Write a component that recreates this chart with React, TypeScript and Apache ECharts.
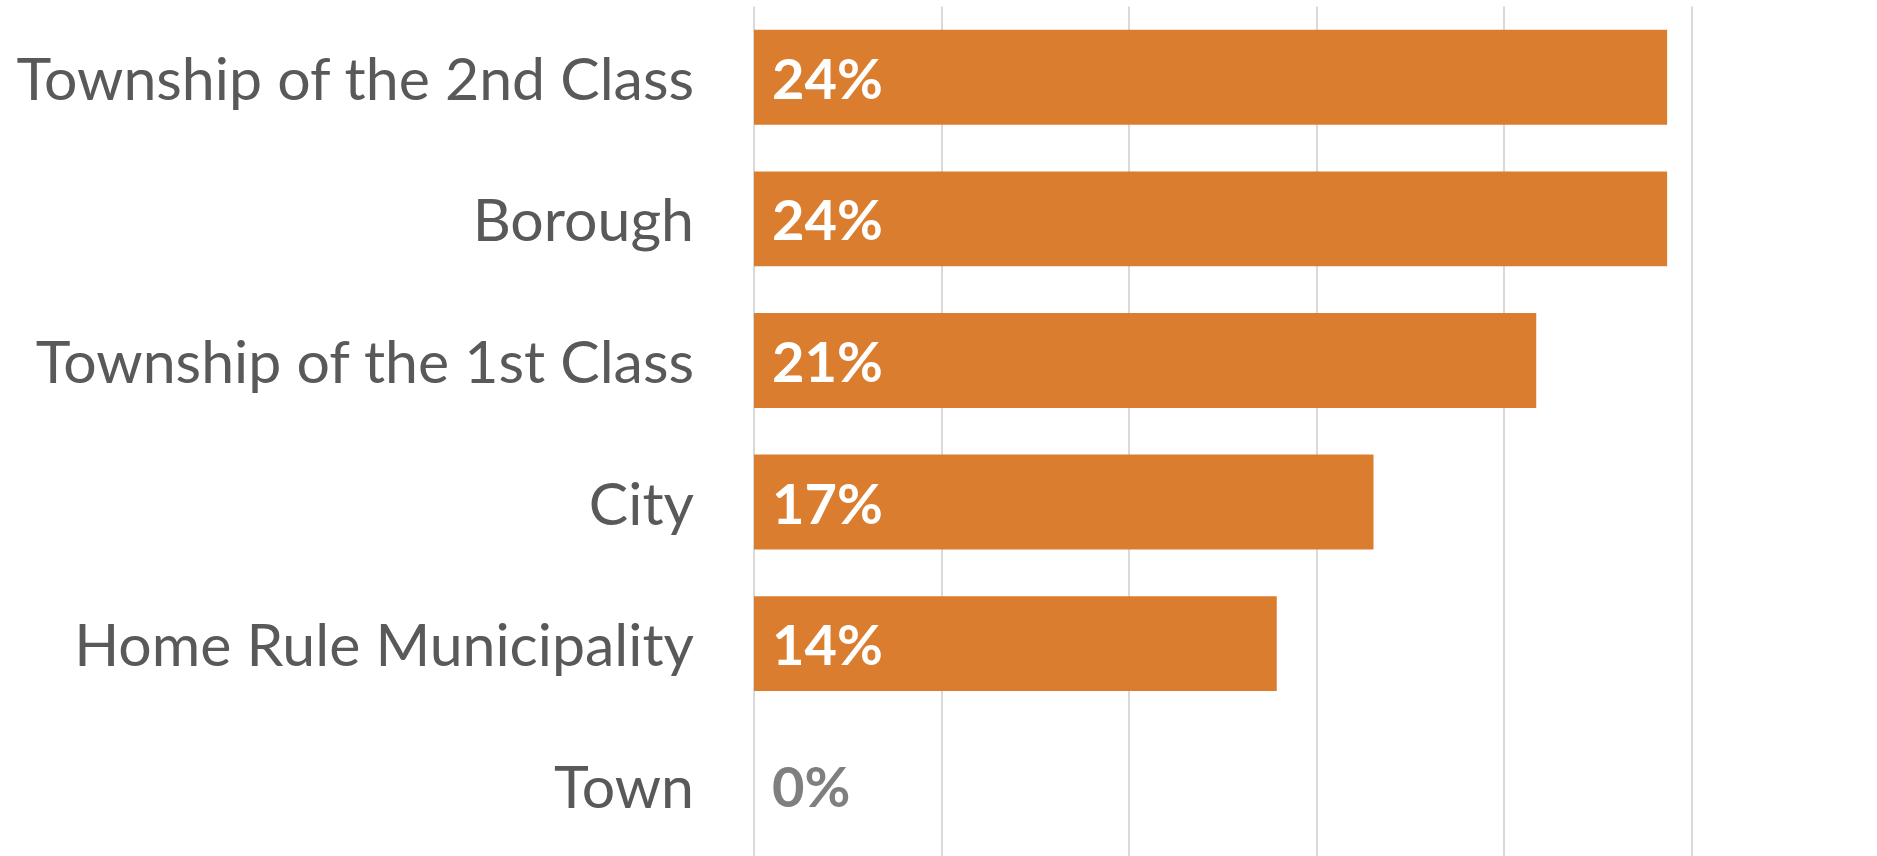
import React, { useEffect, useRef } from "react";
import * as echarts from "echarts";

const categories = [
  "Township of the 2nd Class",
  "Borough",
  "Township of the 1st Class",
  "City",
  "Home Rule Municipality",
  "Town",
];
const values = [24.35, 24.35, 20.86, 16.52, 13.94, 0];
const xTicks = [0, 5, 10, 15, 20, 25];

export default function App() {
  const ref = useRef<HTMLDivElement>(null);
  useEffect(() => {
    document.body.style.margin = "0";
    document.body.style.overflow = "hidden";
    const chart = echarts.init(ref.current!, null, { renderer: "svg" });
    const font = "Lato";
    chart.setOption({
      animation: false,
      backgroundColor: "#ffffff",
      grid: { left: 754, top: 6.5, width: 937.5, height: 854, containLabel: false },
      xAxis: {
        type: "value",
        min: xTicks[0],
        max: xTicks[xTicks.length - 1],
        interval: 5,
        axisLabel: { show: false },
        axisLine: { show: false },
        axisTick: { show: false },
        splitLine: { show: true, lineStyle: { color: "#D9D9D9", width: 2 } },
      },
      yAxis: {
        type: "category",
        data: categories,
        inverse: true,
        axisLine: { show: false },
        axisTick: { show: false },
        axisLabel: {
          color: "#595959",
          fontFamily: font,
          fontSize: 59,
          margin: 60,
          padding: [0, 0, 4, 0],
        },
      },
      series: [
        {
          type: "bar",
          barCategoryGap: "33%",
          data: values.map((v) => ({
            value: v,
            label: { color: v === 0 ? "#7F7F7F" : "#ffffff" },
          })),
          itemStyle: { color: "#DB7D2E" },
          label: {
            show: true,
            position: "insideLeft",
            distance: 18,
            fontFamily: font,
            fontWeight: "bold",
            fontSize: 56,
            formatter: (p: any) => Math.round(p.value) + "%",
          },
        },
      ],
    });
    return () => chart.dispose();
  }, []);
  return (
    <div
      ref={ref}
      style={{ position: "fixed", left: 0, top: 0, width: 1877, height: 856 }}
    />
  );
}
